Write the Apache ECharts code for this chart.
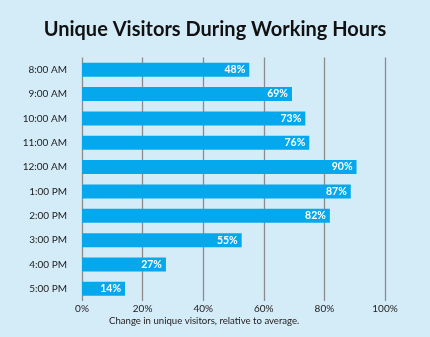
<!DOCTYPE html>
<html><head><meta charset="utf-8">
<script src="https://cdn.jsdelivr.net/npm/echarts@6/dist/echarts.min.js"></script>
<style>html,body{margin:0;padding:0;background:#d4ebf8}#c{width:430px;height:337px}</style>
</head><body><div id="c"></div>
<script>
const categories = ['8:00 AM','9:00 AM','10:00 AM','11:00 AM','12:00 AM','1:00 PM','2:00 PM','3:00 PM','4:00 PM','5:00 PM'];
const barLengths = [55.2, 69.3, 73.7, 75, 90.6, 88.7, 81.8, 52.7, 27.7, 14.2];
const labelValues = [48, 69, 73, 76, 90, 87, 82, 55, 27, 14];
const tickValues = [0, 20, 40, 60, 80, 100];
const xName = 'Change in unique visitors, relative to average.';
const title = 'Unique Visitors During Working Hours';

const chart = echarts.init(document.getElementById('c'));
const font = 'Lato';
chart.setOption({
  backgroundColor: '#d4ebf8',
  animation: false,
  title: { text: title, left: 'center', top: 15,
    textStyle: { fontFamily: font, fontWeight: 'bold', fontSize: 20, color: '#111' } },
  grid: { left: 82, right: 45, top: 57.5, bottom: 36 },
  xAxis: { type: 'value', min: 0, max: 100, interval: 20,
    axisLine: { show: false }, axisTick: { show: false },
    axisLabel: { formatter: v => tickValues.includes(v) ? v + '%' : '', fontFamily: font, fontSize: 10, color: '#222', margin: 3 },
    splitLine: { show: true, lineStyle: { color: '#8c8c8c', width: 1.3 } } },
  yAxis: { type: 'category', data: categories, inverse: true,
    axisLine: { show: false }, axisTick: { show: false },
    axisLabel: { fontFamily: font, fontSize: 10, color: '#222', margin: 15 } },
  graphic: [{ type: 'text', left: 109, top: 316,
    style: { text: xName, fontFamily: font, fontSize: 9.6, fill: '#222' } }],
  series: [{ type: 'bar', data: barLengths, barWidth: 14,
    itemStyle: { color: '#05a8ec' },
    label: { show: true, position: 'insideRight', distance: 4,
      formatter: p => labelValues[p.dataIndex] + '%',
      fontFamily: font, fontWeight: 'bold', fontSize: 10.5, color: '#fff' } }]
});
</script></body></html>
